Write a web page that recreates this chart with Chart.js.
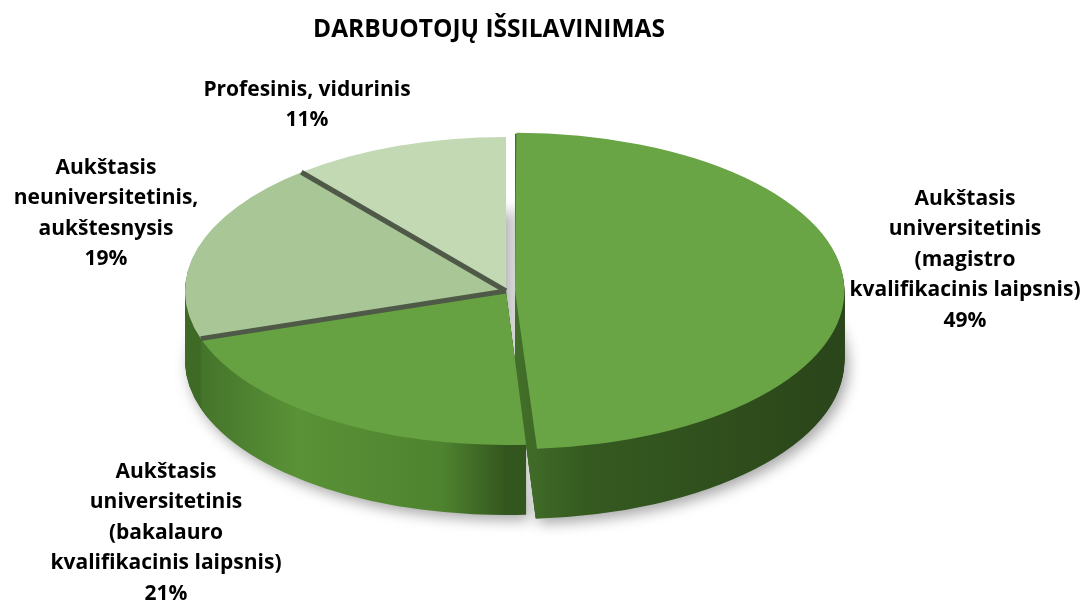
<!DOCTYPE html>
<html>
<head>
<meta charset="utf-8">
<script src="https://cdn.jsdelivr.net/npm/chart.js@4.4.1/dist/chart.umd.min.js"></script>
<style>
    html, body {margin: 0; padding: 0; background: #fff;}
    #wrap {width: 1090px; height: 600px; position: relative;}
</style>
</head>
<body>
<div id="wrap"><canvas id="education-diagram"></canvas></div>
<script>
const chartTitle = 'DARBUOTOJŲ IŠSILAVINIMAS';
const categories = [
    ['Aukštasis', 'universitetinis', '(magistro', 'kvalifikacinis laipsnis)'],
    ['Aukštasis', 'universitetinis', '(bakalauro', 'kvalifikacinis laipsnis)'],
    ['Aukštasis', 'neuniversitetinis,', 'aukštesnysis'],
    ['Profesinis, vidurinis']
];
const shares = [49, 21, 19, 11];

const topColors = ['#69a445', '#67a242', '#a9c696', '#c3d9b4'];
const offsets = [36, 0, 0, 0];
// where the first line of each label sits (text centre)
const labelPos = [[965, 199], [166, 472], [106, 168], [307, 90]];

const tilt = 0.48;      // how flat the pie top is
const depth = 70;       // height of the side wall
const font = 'bold 21px "Open Sans"';

function wedge(ctx, el) {
    const p = el.getProps(['x', 'y', 'startAngle', 'endAngle', 'outerRadius', 'circumference'], true);
    const off = (el.options.offset || 0) / 4;
    const mid = (p.startAngle + p.endAngle) / 2;
    const ox = p.x + Math.cos(mid) * off;
    const oy = p.y + Math.sin(mid) * off;
    const r = p.outerRadius + off * (1 - Math.sin(Math.min(Math.PI, p.circumference)));
    ctx.beginPath();
    ctx.moveTo(ox, oy);
    ctx.arc(ox, oy, r, p.startAngle, p.endAngle);
    ctx.closePath();
}

function wallFill(ctx, i, cx, r) {
    let g;
    if (i === 0) {
        g = ctx.createLinearGradient(cx, 0, cx + r, 0);
        g.addColorStop(0, '#44722a');
        g.addColorStop(0.25, '#355a20');
        g.addColorStop(1, '#2b461a');
    } else if (i === 1) {
        g = ctx.createLinearGradient(cx - r, 0, cx, 0);
        g.addColorStop(0, '#416f28');
        g.addColorStop(0.35, '#5a9237');
        g.addColorStop(0.8, '#4e832f');
        g.addColorStop(1, '#33561e');
    } else {
        return i === 2 ? '#3f6b27' : '#98b288';
    }
    return g;
}

const pie3d = {
    id: 'pie3d',
    beforeDatasetsDraw(chart) {
        const ctx = chart.ctx;
        const arcs = chart.getDatasetMeta(0).data;
        const cx = arcs[0].x, cy = arcs[0].y, r = arcs[0].outerRadius;

        // side wall: stack of darker copies pushed down
        for (let d = depth; d >= 1; d--) {
            ctx.save();
            if (d === depth) {
                ctx.shadowColor = 'rgba(0,0,0,0.35)';
                ctx.shadowBlur = 14;
                ctx.shadowOffsetX = 4;
                ctx.shadowOffsetY = 5;
            }
            ctx.translate(0, d);
            ctx.translate(cx, cy);
            ctx.scale(1, tilt);
            ctx.translate(-cx, -cy);
            arcs.forEach((el, i) => {
                wedge(ctx, el);
                ctx.fillStyle = wallFill(ctx, i, cx, r);
                ctx.fill();
            });
            ctx.restore();
        }

        // the top faces are drawn by Chart.js under this squashed transform
        ctx.save();
        ctx.translate(cx, cy);
        ctx.scale(1, tilt);
        ctx.translate(-cx, -cy);
    },
    afterDatasetsDraw(chart) {
        const ctx = chart.ctx;
        const arcs = chart.getDatasetMeta(0).data;
        ctx.restore();

        // dark dividers between the back slices
        const cx = arcs[0].x, cy = arcs[0].y;
        ctx.save();
        ctx.strokeStyle = '#4f5947';
        ctx.lineWidth = 5;
        [2, 3].forEach(i => {
            const el = arcs[i];
            const a = el.startAngle;
            ctx.beginPath();
            ctx.moveTo(cx, cy);
            ctx.lineTo(cx + Math.cos(a) * el.outerRadius, cy + Math.sin(a) * el.outerRadius * tilt);
            ctx.stroke();
        });
        ctx.restore();
    },
    afterDraw(chart) {
        const ctx = chart.ctx;
        ctx.save();
        ctx.fillStyle = '#000';
        ctx.textAlign = 'center';
        ctx.textBaseline = 'middle';

        ctx.font = 'bold 24.5px "Open Sans"';
        ctx.fillText(chartTitle, 489, 30);

        ctx.font = font;
        categories.forEach((lines, i) => {
            const [x, y] = labelPos[i];
            lines.concat(shares[i] + '%').forEach((t, k) => {
                ctx.fillText(t, x, y + k * 30.5);
            });
        });
        ctx.restore();
    }
};

const educationDiagram = document.getElementById('education-diagram');

new Chart(educationDiagram, {
    type: 'pie',
    data: {
        labels: categories.map(c => c.join(' ')),
        datasets: [{
            data: shares,
            backgroundColor: topColors,
            borderWidth: 0,
            offset: offsets,
            radius: 321,
            clip: false
        }]
    },
    options: {
        responsive: true,
        maintainAspectRatio: false,
        animation: false,
        events: [],
        layout: {
            padding: {left: 0, right: 78, top: 0, bottom: 18}
        },
        plugins: {
            legend: {display: false},
            tooltip: {enabled: false},
            title: {display: false}
        }
    },
    plugins: [pie3d]
});
</script>
</body>
</html>
